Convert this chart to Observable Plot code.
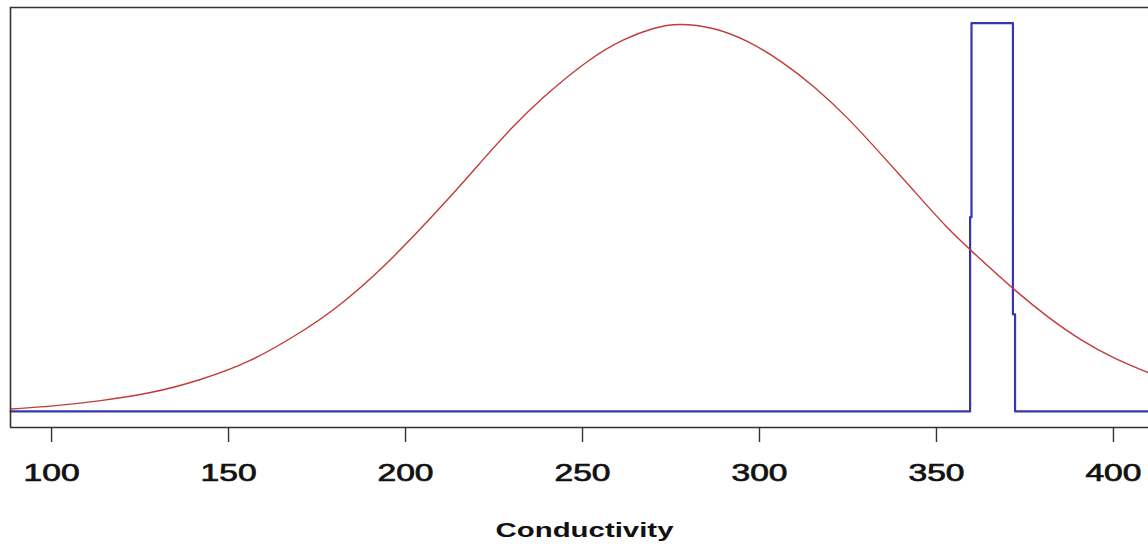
<!DOCTYPE html>
<html>
<head>
<meta charset="utf-8">
<script src="https://cdn.jsdelivr.net/npm/d3@7"></script>
<script src="https://cdn.jsdelivr.net/npm/@observablehq/plot@0.6"></script>
<style>
  html, body { margin: 0; padding: 0; background: #fff; overflow: hidden; }
  #chart svg { display: block; font-family: "Liberation Sans", Arial, sans-serif; }
</style>
</head>
<body>
<div id="chart"></div>
<script>
// Red density curve (scaled so peak = 1)
const redX = [88.4, 100, 113.9, 128, 142, 156.3, 170.4, 179.8, 194, 212.8, 222.2, 229.8, 238.3, 252.4, 261.8, 270, 277, 287.2, 296.7, 306.1, 315.5, 324.9, 334.4, 343.8, 353.2, 359.3, 372.1, 381.5, 390.9, 400.3, 409.8];
const redY = [0.006, 0.013, 0.027, 0.046, 0.080, 0.127, 0.203, 0.260, 0.370, 0.553, 0.652, 0.729, 0.806, 0.912, 0.960, 0.988, 1.0, 0.989, 0.955, 0.903, 0.837, 0.757, 0.662, 0.566, 0.470, 0.418, 0.311, 0.242, 0.182, 0.135, 0.100];

// Blue narrow density (step shape)
const blueX = [88.4, 359.5, 359.5, 359.9, 359.9, 371.6, 371.6, 372.2, 372.2, 409.9];
const blueY = [0, 0, 0.50, 0.50, 1.0, 1.0, 0.25, 0.25, 0, 0];

const xTicks = [100, 150, 200, 250, 300, 350, 400];
const xLabel = "Conductivity";

const xDomain = [88.4, 409.9];
const yDomain = [-0.0415, 1.04];

const red = redX.map((x, i) => ({x, y: redY[i]}));
const blue = blueX.map((x, i) => ({x, y: blueY[i]}));

const plot = Plot.plot({
  width: 1148,
  height: 546,
  marginLeft: 10,
  marginRight: 0,
  marginTop: 7,
  marginBottom: 119,
  x: {domain: xDomain},
  y: {domain: yDomain, axis: null},
  marks: [
    Plot.line(blue, {x: "x", y: "y", stroke: "#3636b2", strokeWidth: 2.2, curve: "linear"}),
    Plot.line(red, {x: "x", y: "y", stroke: "#c23a3a", strokeWidth: 1.4, curve: "basis"}),
    Plot.ruleX([xDomain[0]], {stroke: "#333", strokeWidth: 1.6}),
    Plot.ruleY(yDomain, {stroke: "#333", strokeWidth: 1.6}),
    Plot.axisX({ticks: xTicks, tickSize: 15, tickPadding: 21, fontSize: 24, stroke: "#333", strokeWidth: 1.4, fill: "#111", tickFormat: d => String(d), label: null}),
    Plot.text([xLabel], {frameAnchor: "bottom", dy: 109, dx: 5, fontSize: 21, fontWeight: "bold", fill: "#111"})
  ]
});

// Widen glyphs horizontally to match the stretched reference; thicken tick digits slightly
plot.querySelectorAll("text").forEach(t => {
  const tr = t.getAttribute("transform");
  if (tr) {
    t.setAttribute("transform", tr + " scale(1.4,1)");
  } else {
    const x = t.getAttribute("x") || 0, y = t.getAttribute("y") || 0;
    t.removeAttribute("x"); t.removeAttribute("y");
    t.setAttribute("transform", `translate(${x},${y}) scale(1.4,1)`);
  }
});
plot.querySelectorAll('g[aria-label="x-axis tick label"] text').forEach(t => {
  t.setAttribute("stroke", "#111");
  t.setAttribute("stroke-width", "0.7");
});

document.getElementById("chart").appendChild(plot);
</script>
</body>
</html>
